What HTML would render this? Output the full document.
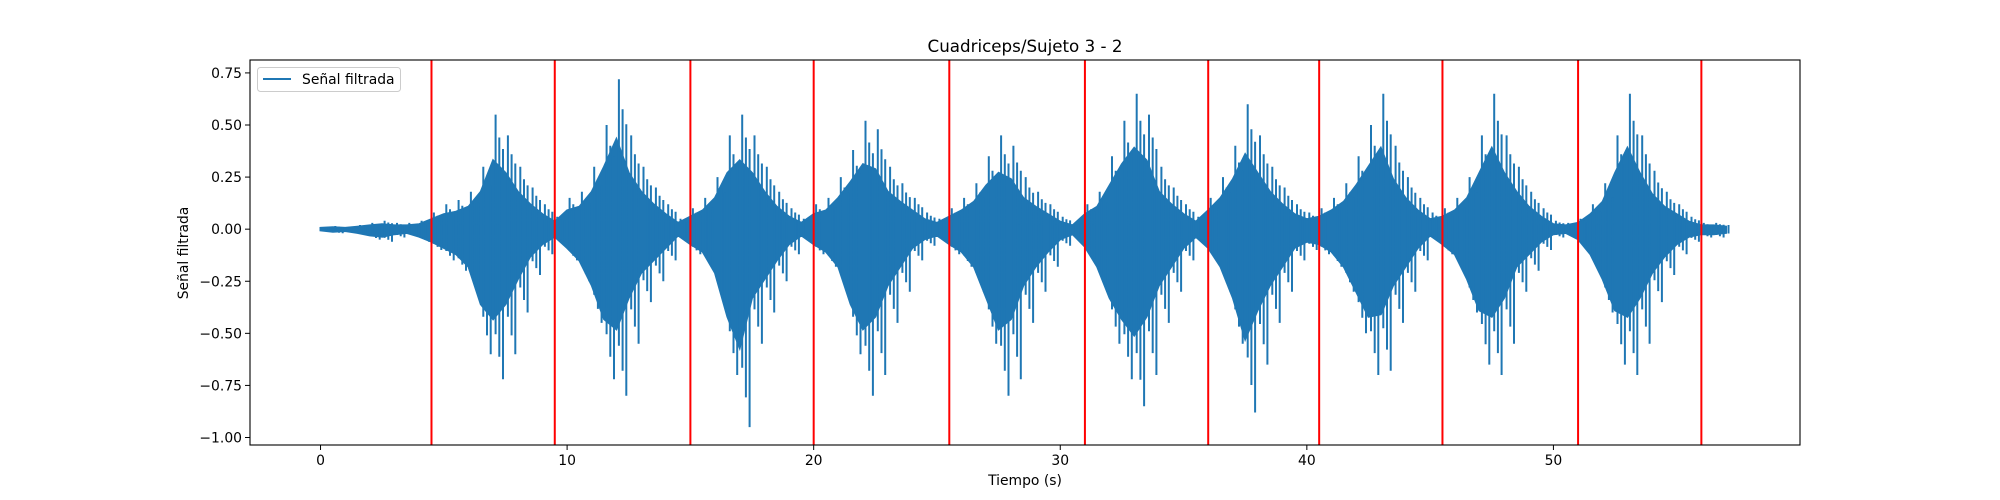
<!DOCTYPE html>
<html><head><meta charset="utf-8">
<style>
html,body{margin:0;padding:0;background:#fff;}
svg{display:block;font-family:"DejaVu Sans","Liberation Sans",sans-serif;}
</style></head>
<body>
<svg id="chart" width="2000" height="500" viewBox="0 0 2000 500" xmlns="http://www.w3.org/2000/svg">
<rect x="0" y="0" width="2000" height="500" fill="#fff"/>
<text x="1025" y="52" font-size="16.7" text-anchor="middle" fill="#000">Cuadriceps/Sujeto 3 - 2</text>
<g id="plot"></g>
<g id="axes"></g>
<text x="1025" y="485" font-size="13.9" text-anchor="middle" fill="#000">Tiempo (s)</text>
<text x="0" y="0" font-size="13.9" text-anchor="middle" fill="#000" transform="translate(188,253) rotate(-90)">Señal filtrada</text>
<g>
<rect x="257.5" y="67.5" width="143" height="24" rx="3" fill="#fff" fill-opacity="0.8" stroke="#ccc" stroke-width="1"/>
<line x1="263" y1="79" x2="291" y2="79" stroke="#1f77b4" stroke-width="2"/>
<text x="302" y="84" font-size="13.9" fill="#000">Señal filtrada</text>
</g>
</svg>
<script>
const timeStep = 0.5;
const upperEnv = [0.01,0.015,0.01,0.02,0.03,0.04,0.03,0.03,0.04,
0.08,0.12,0.14,0.18,0.30,0.55,0.45,0.30,0.20,0.12,
0.06,0.15,0.18,0.30,0.50,0.72,0.45,0.30,0.20,0.12,0.05,
0.10,0.15,0.25,0.45,0.55,0.45,0.30,0.18,0.10,0.05,
0.12,0.15,0.25,0.38,0.52,0.48,0.30,0.22,0.15,0.08,0.05,
0.10,0.15,0.22,0.35,0.45,0.40,0.25,0.18,0.12,0.06,0.03,
0.12,0.18,0.35,0.52,0.65,0.55,0.30,0.20,0.12,0.06,
0.15,0.25,0.40,0.60,0.45,0.30,0.20,0.12,0.08,
0.10,0.15,0.22,0.35,0.50,0.65,0.40,0.25,0.15,0.08,
0.10,0.15,0.25,0.45,0.65,0.45,0.30,0.18,0.10,0.04,0.03,
0.05,0.12,0.22,0.45,0.65,0.45,0.28,0.18,0.12,0.06,
0.03,0.03,0.02];
const lowerEnv = [-0.01,-0.02,-0.015,-0.03,-0.05,-0.06,-0.04,-0.03,-0.06,
-0.10,-0.15,-0.20,-0.30,-0.60,-0.72,-0.60,-0.40,-0.22,-0.12,
-0.06,-0.15,-0.25,-0.45,-0.72,-0.80,-0.55,-0.35,-0.25,-0.15,-0.05,
-0.12,-0.18,-0.35,-0.70,-0.95,-0.55,-0.40,-0.25,-0.12,-0.05,
-0.12,-0.18,-0.30,-0.60,-0.80,-0.70,-0.45,-0.30,-0.15,-0.08,-0.05,
-0.12,-0.18,-0.30,-0.55,-0.80,-0.72,-0.45,-0.30,-0.18,-0.08,-0.04,
-0.14,-0.30,-0.55,-0.72,-0.85,-0.70,-0.45,-0.30,-0.15,-0.06,
-0.15,-0.30,-0.55,-0.88,-0.65,-0.45,-0.30,-0.15,-0.10,
-0.12,-0.18,-0.30,-0.50,-0.70,-0.68,-0.45,-0.30,-0.15,-0.05,
-0.12,-0.20,-0.40,-0.65,-0.70,-0.55,-0.30,-0.20,-0.10,-0.04,-0.03,
-0.08,-0.20,-0.40,-0.65,-0.70,-0.55,-0.35,-0.22,-0.12,-0.06,
-0.04,-0.04,-0.03];
const markerTimes = [4.5,9.5,15,20,25.5,31,36,40.5,45.5,51,56];
const xTicks = [0,10,20,30,40,50];
const yTicks = [0.75,0.5,0.25,0,-0.25,-0.5,-0.75,-1.0];
const yTickLabels = ["0.75","0.50","0.25","0.00","\u22120.25","\u22120.50","\u22120.75","\u22121.00"];

const L=250,R=1800,T=60,B=445;
const xMin=-2.86,xMax=60.0,yMin=-1.036,yMax=0.812;
function sx(v){return L+(v-xMin)/(xMax-xMin)*(R-L);}
function sy(v){return B-(v-yMin)/(yMax-yMin)*(B-T);}
const NS="http://www.w3.org/2000/svg";
const plotG=document.getElementById('plot');
const axesG=document.getElementById('axes');
function mk(tag,attrs,parent){const e=document.createElementNS(NS,tag);for(const k in attrs)e.setAttribute(k,attrs[k]);parent.appendChild(e);return e;}

(function(){
let upperPts=[],lowerPts=[];
for(let i=0;i<upperEnv.length;i++){
  const t=i*timeStep;
  upperPts.push(sx(t).toFixed(1)+','+sy(upperEnv[i]*0.6).toFixed(1));
  lowerPts.unshift(sx(t).toFixed(1)+','+sy(lowerEnv[i]*0.6).toFixed(1));
}
const core=mk('polygon',{points:upperPts.concat(lowerPts).join(' '),fill:'#1f77b4',stroke:'#1f77b4','stroke-width':'2'},plotG);


let d='';
const last=upperEnv.length-1;
for(let i=0;i<upperEnv.length;i++){
  const t=i*timeStep;
  const a=sx(t+0.1),c=sx(t+0.25),b=sx(t+0.4);
  d+='M'+a.toFixed(1)+','+sy(upperEnv[i]).toFixed(1)+'L'+a.toFixed(1)+','+sy(lowerEnv[i]*0.7).toFixed(1);
  if(i<last){
    d+='M'+c.toFixed(1)+','+sy(upperEnv[i]*0.8).toFixed(1)+'L'+c.toFixed(1)+','+sy(lowerEnv[i]*0.85).toFixed(1);
    d+='M'+b.toFixed(1)+','+sy(upperEnv[i]*0.7).toFixed(1)+'L'+b.toFixed(1)+','+sy(lowerEnv[i]).toFixed(1);
  }
}
const spikes=mk('path',{d:d,stroke:'#1f77b4','stroke-width':'2',fill:'none'},plotG);



markerTimes.forEach(function(t){
  const ln=mk('line',{x1:sx(t),x2:sx(t),y1:T,y2:B,stroke:'#ff0000','stroke-width':'2'},plotG);
  
  
});

const fr=mk('rect',{x:L,y:T,width:R-L,height:B-T,fill:'none',stroke:'#000','stroke-width':'1.1'},axesG);


xTicks.forEach(function(v){
  const x=sx(v);
  const tk=mk('line',{x1:x,x2:x,y1:B,y2:B+5,stroke:'#000','stroke-width':'1'},axesG);
  
  
  const tx=mk('text',{x:x,y:B+20,'font-size':'13.9','text-anchor':'middle',fill:'#000'},axesG);
  tx.textContent=String(v);
  
  
});
yTicks.forEach(function(v,i){
  const y=sy(v);
  const tk=mk('line',{x1:L-5,x2:L,y1:y,y2:y,stroke:'#000','stroke-width':'1'},axesG);
  
  
  const tx=mk('text',{x:L-8,y:y+5,'font-size':'13.9','text-anchor':'end',fill:'#000'},axesG);
  tx.textContent=yTickLabels[i];
  
  
});
})();
</script>
</body></html>
